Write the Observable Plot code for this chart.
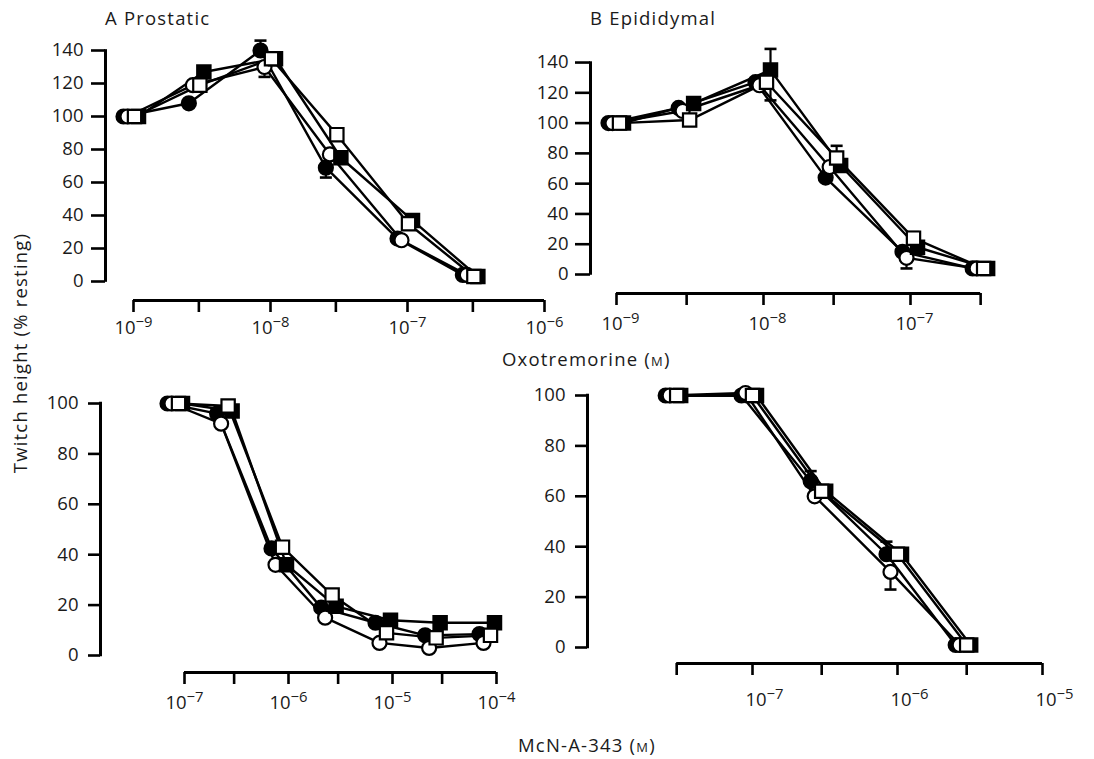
<!DOCTYPE html>
<html><head><meta charset="utf-8">
<script src="https://cdn.jsdelivr.net/npm/d3@7"></script>
<script src="https://cdn.jsdelivr.net/npm/@observablehq/plot@0.6"></script>
<style>
body{margin:0;background:#fff;}
#wrap{position:relative;width:1094px;height:759px;font-family:"Open Sans",sans-serif;color:#1a1a1a;overflow:hidden;}
#wrap svg{position:absolute;left:0;top:0;}
#wrap svg text{font-size:18.5px;font-weight:500;}
.lbl{position:absolute;font-size:18.5px;font-weight:500;line-height:20px;letter-spacing:1.2px;white-space:nowrap;}
.sc{font-variant:small-caps;}
</style></head><body><div id="wrap"></div>
<script>
// ---------- DATA ----------
// Panel A — Prostatic, oxotremorine
const concA = [1e-9, 3e-9, 1e-8, 3e-8, 1e-7, 3e-7];
const A_fc = [100, 108, 140, 69, 26, 4];
const A_oc = [100, 119, 130, 77, 25, 4];
const A_fs = [100, 127, 135, 75, 37, 3];
const A_os = [100, 119, 135, 89, 35, 3];
const errA = [["fc", 1e-8, 140, 146], ["oc", 1e-8, 130, 124], ["fc", 3e-8, 69, 63]];
const xTicksA = [1e-9, 3e-9, 1e-8, 3e-8, 1e-7, 3e-7, 1e-6];
const xLabelsA = [1e-9, 1e-8, 1e-7, 1e-6];

// Panel B — Epididymal, oxotremorine
const concB = [1e-9, 3e-9, 1e-8, 3e-8, 1e-7, 3e-7];
const B_fc = [100, 110, 127, 64, 15, 4];
const B_oc = [100, 108, 125, 71, 11, 4];
const B_fs = [100, 113, 135, 72, 18, 4];
const B_os = [100, 102, 127, 77, 24, 4];
const errB = [["fs", 1e-8, 135, 149], ["fs", 1e-8, 135, 115], ["os", 3e-8, 77, 85], ["os", 1e-7, 24, 28], ["oc", 1e-7, 11, 4]];
const xTicksB = [1e-9, 3e-9, 1e-8, 3e-8, 1e-7, 3e-7];
const xLabelsB = [1e-9, 1e-8, 1e-7];

// Panel C — Prostatic, McN-A-343
const concC = [1e-7, 3e-7, 1e-6, 3e-6, 1e-5, 3e-5, 1e-4];
const C_fc = [100, 96, 42.5, 19, 13, 8, 8.5];
const C_oc = [100, 92, 36, 15, 5, 3, 5];
const C_fs = [100, 97, 36, 19.5, 14, 13, 13];
const C_os = [100, 99, 43, 24, 9, 7, 8];
const errC = [];
const xTicksC = [1e-7, 3e-7, 1e-6, 3e-6, 1e-5, 3e-5, 1e-4];
const xLabelsC = [1e-7, 1e-6, 1e-5, 1e-4];

// Panel D — Epididymal, McN-A-343
const concD = [3e-8, 1e-7, 3e-7, 1e-6, 3e-6];
const D_fc = [100, 100, 66, 37, 1];
const D_oc = [100, 101, 60, 30, 1];
const D_fs = [100, 100, 62, 37, 1];
const D_os = [100, 100, 62, 37, 1];
const errD = [["fc", 3e-7, 66, 70], ["fc", 1e-6, 37, 42], ["oc", 1e-6, 30, 23]];
const xTicksD = [3e-8, 1e-7, 3e-7, 1e-6, 3e-6, 1e-5];
const xLabelsD = [1e-7, 1e-6, 1e-5];

const yTicksTop = [0, 20, 40, 60, 80, 100, 120, 140];
const yTicksBottom = [0, 20, 40, 60, 80, 100];

// ---------- STYLE ----------
const W = 1094, H = 759;
const seriesOrder = ["fc", "oc", "fs", "os"];
const seriesStyle = {
  fc: {symbol: "circle", fill: "#000", r: 7, dx: -8},
  oc: {symbol: "circle", fill: "#fff", r: 7, dx: -4},
  fs: {symbol: "square", fill: "#000", r: 7.5, dx: 7},
  os: {symbol: "square", fill: "#fff", r: 7.5, dx: 3}
};
const capSymbol = {draw(ctx, size) { const w = Math.sqrt(size / Math.PI); ctx.moveTo(-w, 0); ctx.lineTo(w, 0); }};

const panels = [
  {conc: concA, vals: {fc: A_fc, oc: A_oc, fs: A_fs, os: A_os}, err: errA, xTicks: xTicksA, xLabels: xLabelsA, yTicks: yTicksTop, yTop: 140,
   yZero: 281, ppu: 1.65, axisPx: 300, yAxisPx: 105, refConc: 1e-9, refPx: 133, decade: 137, rightPx: 552, shift: -2,
   yTickSize: 14, yTickPad: 8, xTickPad: 8, labelDx: 0},
  {conc: concB, vals: {fc: B_fc, oc: B_oc, fs: B_fs, os: B_os}, err: errB, xTicks: xTicksB, xLabels: xLabelsB, yTicks: yTicksTop, yTop: 140,
   yZero: 274, ppu: 1.514, axisPx: 293, yAxisPx: 590, refConc: 1e-9, refPx: 616, decade: 147, rightPx: 1000, shift: 0,
   yTickSize: 15, yTickPad: 7, xTickPad: 11, labelDx: 4},
  {conc: concC, vals: {fc: C_fc, oc: C_oc, fs: C_fs, os: C_os}, err: errC, xTicks: xTicksC, xLabels: xLabelsC, yTicks: yTicksBottom, yTop: 100,
   yZero: 655, ppu: 2.52, axisPx: 672, yAxisPx: 100, refConc: 1e-7, refPx: 184, decade: 104, rightPx: 515, shift: -9,
   yTickSize: 12, yTickPad: 10, xTickPad: 11, labelDx: 0},
  {conc: concD, vals: {fc: D_fc, oc: D_oc, fs: D_fs, os: D_os}, err: errD, xTicks: xTicksD, xLabels: xLabelsD, yTicks: yTicksBottom, yTop: 100,
   yZero: 647, ppu: 2.52, axisPx: 663, yAxisPx: 587, refConc: 1e-7, refPx: 752, decade: 145, rightPx: 1060, shift: -3,
   yTickSize: 12, yTickPad: 10, xTickPad: 17, labelDx: 12}
];

function fmt(d) {
  const e = Math.round(Math.log10(d));
  return "10^" + (e < 0 ? "\u2212" : "") + Math.abs(e);
}

const wrap = document.getElementById("wrap");

function drawPanel(p) {
  const frameTop = p.yZero - p.yTop * p.ppu;
  const yBottom = -(p.axisPx - p.yZero) / p.ppu;
  const lr = Math.log10(p.refConc);
  const xmin = Math.pow(10, lr - (p.refPx - p.yAxisPx) / p.decade);
  const xmax = Math.pow(10, lr + (p.rightPx - p.refPx) / p.decade);
  const marks = [
    Plot.ruleX([{x: xmin, y1: -0.5, y2: p.yTop + 0.5}], {x: "x", y1: "y1", y2: "y2", stroke: "#000", strokeWidth: 3}),
    Plot.ruleY([{y: yBottom, x1: p.xTicks[0], x2: p.xTicks[p.xTicks.length - 1]}], {y: "y", x1: "x1", x2: "x2", stroke: "#000", strokeWidth: 3}),
    Plot.axisY({ticks: p.yTicks, tickSize: p.yTickSize, tickPadding: p.yTickPad, stroke: "#000", strokeWidth: 2.6, fill: "#1a1a1a", fontSize: 18.5, label: null, anchor: "left"}),
    Plot.axisX({ticks: p.xTicks, tickSize: 12, tickFormat: () => "", stroke: "#000", strokeWidth: 2.6, label: null, anchor: "bottom"}),
    Plot.axisX({ticks: p.xLabels, tickSize: 0, tickPadding: 12 + p.xTickPad, tickFormat: fmt, fill: "#1a1a1a", fontSize: 18.5, label: null, anchor: "bottom", dx: p.labelDx})
  ];
  const rows = {};
  for (const k of seriesOrder) rows[k] = p.conc.map((c, i) => ({c, v: p.vals[k][i]}));
  for (const k of seriesOrder) {
    marks.push(Plot.line(rows[k], {x: "c", y: "v", stroke: "#000", strokeWidth: 2.4, dx: p.shift + seriesStyle[k].dx}));
  }
  const errs = p.err.map(([k, c, from, to]) => ({k, c, from, to}));
  for (const k of seriesOrder) {
    const e = errs.filter(d => d.k === k);
    if (!e.length) continue;
    const dx = p.shift + seriesStyle[k].dx;
    marks.push(Plot.ruleX(e, {x: "c", y1: "from", y2: "to", stroke: "#000", strokeWidth: 2.2, dx}));
    marks.push(Plot.dot(e, {x: "c", y: "to", symbol: capSymbol, r: 6, stroke: "#000", strokeWidth: 2.6, fill: "none", dx}));
  }
  for (const k of seriesOrder) {
    const s = seriesStyle[k];
    marks.push(Plot.dot(rows[k], {x: "c", y: "v", symbol: s.symbol, r: s.r, fill: s.fill, stroke: "#000", strokeWidth: 2.2, dx: p.shift + s.dx}));
  }
  const svg = Plot.plot({
    width: W, height: H,
    marginTop: frameTop, marginBottom: H - p.axisPx, marginLeft: p.yAxisPx, marginRight: W - p.rightPx,
    x: {type: "log", domain: [xmin, xmax], label: null},
    y: {domain: [yBottom, p.yTop], label: null},
    style: {fontFamily: "'Open Sans', sans-serif", fontSize: "18.5px", color: "#1a1a1a", background: "transparent", overflow: "visible"},
    marks
  });
  svg.querySelectorAll("text").forEach(t => {
    const m = t.textContent.match(/^10\^(.+)$/);
    if (m) {
      t.textContent = "10";
      const ts = document.createElementNS("http://www.w3.org/2000/svg", "tspan");
      ts.setAttribute("dy", "-0.48em");
      ts.setAttribute("font-size", "0.8em");
      ts.textContent = m[1];
      t.appendChild(ts);
    }
  });
  wrap.appendChild(svg);
}
panels.forEach(drawPanel);

function label(html, left, top, extra) {
  const d = document.createElement("div");
  d.className = "lbl";
  d.innerHTML = html;
  d.style.left = left + "px";
  d.style.top = top + "px";
  if (extra) Object.assign(d.style, extra);
  wrap.appendChild(d);
}
label("A Prostatic", 105, 8);
label("B Epididymal", 590, 8);
label('Oxotremorine (<span class="sc">m</span>)', 502, 349);
label('McN-A-343 (<span class="sc">m</span>)', 518, 735);
label("Twitch height (% resting)", 20, 353, {transform: "translate(-50%,-50%) rotate(-90deg)"});
</script></body></html>
